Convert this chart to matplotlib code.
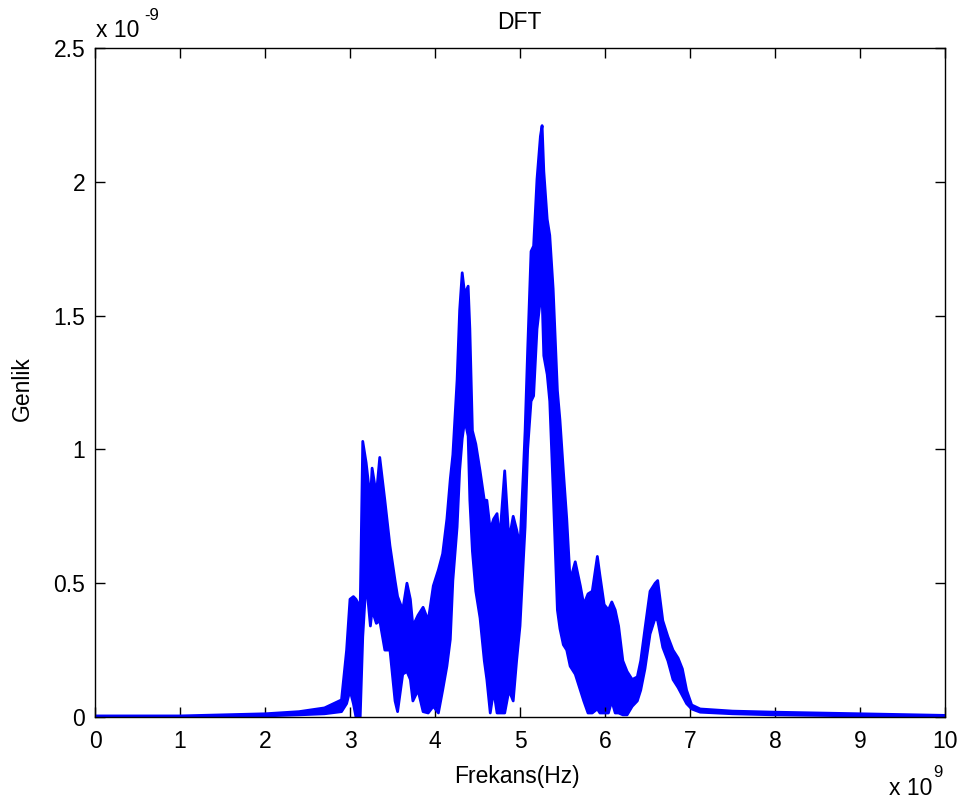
import matplotlib
matplotlib.use("Agg")
import matplotlib.pyplot as plt

plt.rcParams['font.family'] = ['Liberation Sans', 'DejaVu Sans']

# Frequency (x 1e9 Hz) and DFT magnitude envelope (x 1e-9)
freq = [0.0, 1.0, 1.5, 2.0, 2.4, 2.7, 2.9, 2.96, 3.0, 3.04, 3.07, 3.12, 3.15, 3.19, 3.24, 3.26,
        3.31, 3.35, 3.41, 3.47, 3.53, 3.56, 3.62, 3.67, 3.71, 3.74, 3.8, 3.86, 3.92, 3.98,
        4.04, 4.09, 4.14, 4.18, 4.21, 4.26, 4.29, 4.32, 4.35, 4.39, 4.41, 4.44, 4.48, 4.53,
        4.58, 4.61, 4.65, 4.69, 4.73, 4.76, 4.82, 4.87, 4.92, 4.96, 5.0, 5.04, 5.06, 5.09,
        5.13, 5.16, 5.2, 5.24, 5.26, 5.28, 5.32, 5.35, 5.39, 5.44, 5.47, 5.51, 5.55, 5.59,
        5.65, 5.71, 5.75, 5.8, 5.85, 5.91, 5.94, 5.99, 6.04, 6.08, 6.12, 6.16, 6.21, 6.26,
        6.32, 6.38, 6.42, 6.47, 6.53, 6.59, 6.62, 6.68, 6.74, 6.8, 6.86, 6.91, 6.96, 7.02,
        7.12, 7.5, 8.0, 9.0, 10.0]
upper = [0.004, 0.004, 0.008, 0.012, 0.02, 0.034, 0.064, 0.25, 0.44, 0.45, 0.44, 0.41, 1.03, 0.95, 0.81, 0.93,
         0.83, 0.97, 0.81, 0.64, 0.51, 0.45, 0.40, 0.50, 0.44, 0.34, 0.38, 0.41, 0.36, 0.49,
         0.55, 0.61, 0.74, 0.89, 0.98, 1.26, 1.52, 1.66, 1.58, 1.61, 1.45, 1.07, 1.02, 0.92,
         0.81, 0.81, 0.70, 0.74, 0.76, 0.66, 0.92, 0.66, 0.75, 0.70, 0.64, 0.92, 1.07, 1.37,
         1.74, 1.76, 2.01, 2.17, 2.21, 2.04, 1.86, 1.80, 1.60, 1.22, 1.11, 0.92, 0.74, 0.51,
         0.58, 0.49, 0.42, 0.46, 0.47, 0.60, 0.53, 0.42, 0.40, 0.43, 0.40, 0.34, 0.21, 0.17,
         0.14, 0.15, 0.21, 0.33, 0.47, 0.50, 0.51, 0.36, 0.30, 0.25, 0.22, 0.18, 0.10, 0.045,
         0.03, 0.022, 0.018, 0.012, 0.006]
lower = [0.0, 0.0, 0.002, 0.004, 0.008, 0.012, 0.02, 0.05, 0.10, 0.05, 0.0, 0.0, 0.30, 0.51, 0.34, 0.40,
         0.35, 0.36, 0.25, 0.25, 0.06, 0.02, 0.16, 0.17, 0.14, 0.06, 0.10, 0.02, 0.015, 0.04,
         0.015, 0.10, 0.19, 0.29, 0.51, 0.71, 0.92, 1.04, 1.11, 1.05, 0.81, 0.62, 0.47, 0.37,
         0.21, 0.14, 0.015, 0.10, 0.015, 0.015, 0.015, 0.10, 0.06, 0.21, 0.34, 0.59, 0.71, 1.00,
         1.18, 1.20, 1.45, 1.56, 1.57, 1.35, 1.28, 1.18, 0.85, 0.40, 0.33, 0.27, 0.25, 0.19,
         0.16, 0.10, 0.06, 0.015, 0.015, 0.03, 0.015, 0.015, 0.015, 0.06, 0.015, 0.015, 0.008, 0.008,
         0.04, 0.06, 0.10, 0.18, 0.31, 0.37, 0.36, 0.26, 0.21, 0.14, 0.11, 0.08, 0.05, 0.03,
         0.018, 0.012, 0.008, 0.004, 0.0]

xticks = [0, 1, 2, 3, 4, 5, 6, 7, 8, 9, 10]
yticks = [0, 0.5, 1, 1.5, 2, 2.5]
ytick_labels = ['0', '0.5', '1', '1.5', '2', '2.5']

W, H = 967, 805
fig = plt.figure(figsize=(W / 100, H / 100), dpi=100)
ax = fig.add_axes([95 / W, 88 / H, 850 / W, 669 / H])

ax.fill_between(freq, lower, upper, color='#0000ff', linewidth=0)
ax.plot(freq, upper, color='#0000ff', linewidth=2)
ax.plot(freq, lower, color='#0000ff', linewidth=2)

ax.set_xlim(0, 10)
ax.set_ylim(0, 2.5)
ax.set_xticks(xticks)
ax.set_xticklabels([str(t) for t in xticks])
ax.set_yticks(yticks)
ax.set_yticklabels(ytick_labels)
ax.tick_params(direction='in', length=7, width=1, top=True, right=True,
               labelsize=16.5, colors='black')
ax.tick_params(axis='x', pad=9)
ax.tick_params(axis='y', pad=7)
for s in ax.spines.values():
    s.set_linewidth(1.0)

FS = 16.5
fig.text(519 / W, 1 - 29 / H, 'DFT', fontsize=FS, ha='center', va='baseline')
fig.text(517 / W, 1 - 783 / H, 'Frekans(Hz)', fontsize=FS, ha='center', va='baseline')
fig.text(22 / W, 1 - 389 / H, 'Genlik', fontsize=FS, ha='center', va='center', rotation=90)

# MATLAB-style exponent labels
fig.text(96 / W, 1 - 37 / H, 'x 10', fontsize=FS, ha='left', va='baseline')
fig.text(144 / W, 1 - 20 / H, '-9', fontsize=12, ha='left', va='baseline')
fig.text(932 / W, 1 - 795 / H, 'x 10', fontsize=FS, ha='right', va='baseline')
fig.text(933 / W, 1 - 777 / H, '9', fontsize=12, ha='left', va='baseline')

fig.savefig('out.png', dpi=100)
